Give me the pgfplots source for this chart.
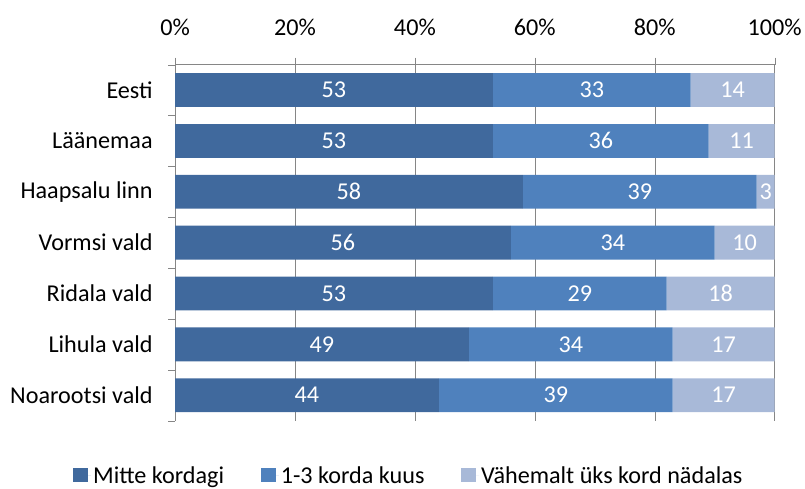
\documentclass[border=0pt]{standalone}
\usepackage{fontspec}
\setmainfont{Carlito}
\usepackage{pgfplots}
\pgfplotsset{compat=1.18}
\usetikzlibrary{calc}
\definecolor{darkblue}{RGB}{64,105,157}
\definecolor{midblue}{RGB}{79,129,189}
\definecolor{lightblue}{RGB}{168,185,216}
\definecolor{axisgray}{RGB}{134,134,134}
\newcommand{\cf}{\fontsize{24.3}{29}\selectfont}

\begin{document}
\begin{tikzpicture}
\begin{axis}[
  xbar stacked,
  name=ax,
  scale only axis,
  width=603pt, height=358pt,
  bar width=34pt,
  xmin=0, xmax=100,
  ymin=-0.5, ymax=6.5,
  axis x line*=top,
  axis y line*=left,
  axis line style={draw=axisgray},
  xtick={0,20,40,60,80,100},
  xticklabels={0\%,20\%,40\%,60\%,80\%,100\%},
  xticklabel shift=19pt,
  xmajorgrids,
  grid style={axisgray},
  tick align=outside,
  major tick length=7pt,
  tick style={axisgray},
  ytick={-0.5,0.5,...,6.5},
  yticklabels={},
  extra y ticks={0,1,2,3,4,5,6},
  extra y tick labels={Noarootsi vald,Lihula vald,Ridala vald,Vormsi vald,Haapsalu linn,Läänemaa,Eesti},
  extra y tick style={major tick length=0pt},
  yticklabel shift=19pt,
  ticklabel style={font=\cf},
  /pgf/number format/assume math mode=true,
  point meta=explicit symbolic,
  nodes near coords={\pgfplotspointmeta},
  every node near coord/.append style={font=\cf, text=white, anchor=center},
  legend style={at={(0.39,-0.155)}, anchor=center, draw=none, fill=none,
    legend columns=3, font=\cf,
    /tikz/every even column/.append style={column sep=35pt}},
  legend image code/.code={\fill[#1] (0pt,-6pt) rectangle (15pt,8pt);
    \path (15pt,0pt) -- (18pt,0pt);},
]
\addplot[fill=darkblue, draw=none] coordinates
  {(44,0) [44] (49,1) [49] (53,2) [53] (56,3) [56] (58,4) [58] (53,5) [53] (53,6) [53]};
\addplot[fill=midblue, draw=none] coordinates
  {(39,0) [39] (34,1) [34] (29,2) [29] (34,3) [34] (39,4) [39] (36,5) [36] (33,6) [33]};
\addplot[fill=lightblue, draw=none] coordinates
  {(17,0) [17] (17,1) [17] (18,2) [18] (10,3) [10] (3,4) [3] (11,5) [11] (14,6) [14]};
\legend{Mitte kordagi,1-3 korda kuus,Vähemalt üks kord nädalas}
\end{axis}
\path[use as bounding box] ($(ax.south west)+(-176pt,-60pt)$) rectangle ($(ax.north east)+(26pt,65pt)$);
\end{tikzpicture}
\end{document}
